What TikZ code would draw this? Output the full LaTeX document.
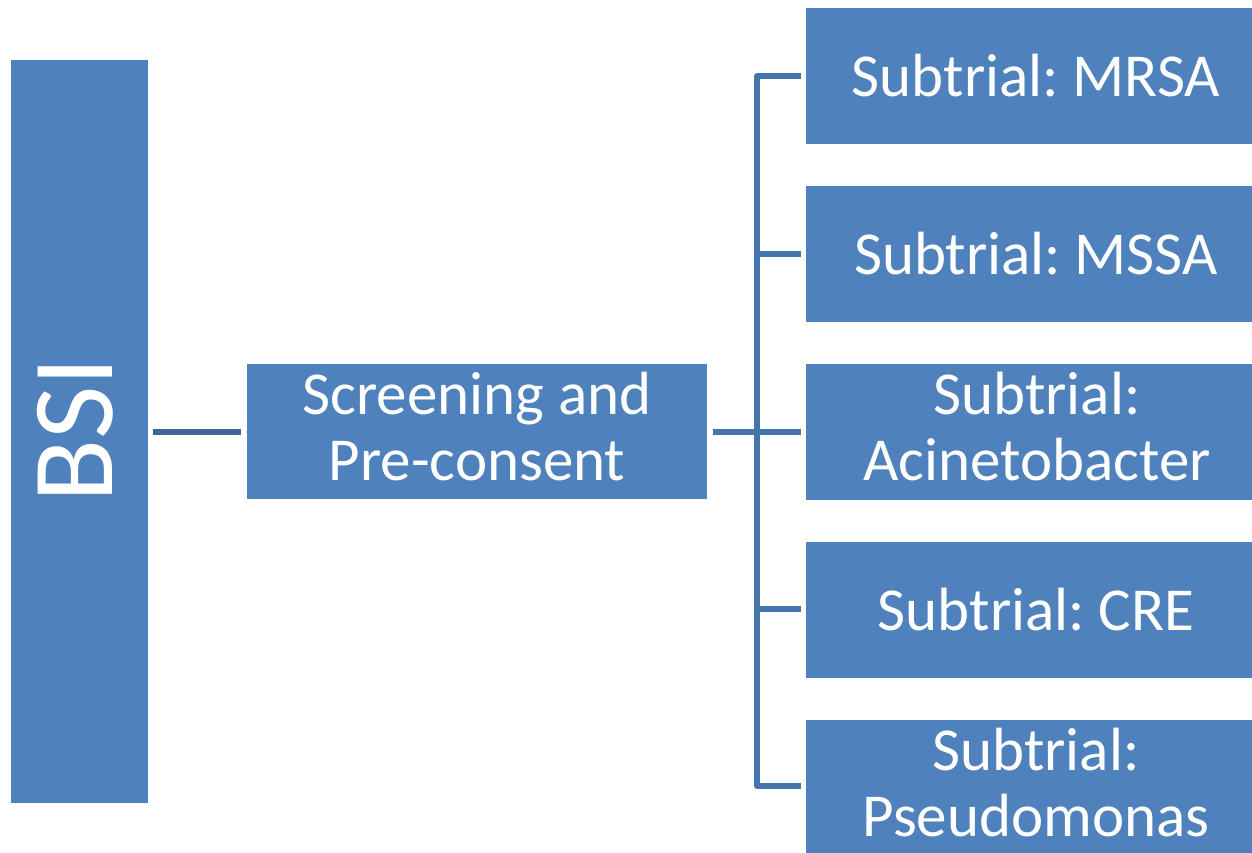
\documentclass[tikz,border=0pt]{standalone}
\usepackage{fontspec}
\setmainfont{Carlito}
\frenchspacing
\definecolor{boxblue}{HTML}{4F81BD}
\definecolor{linkdark}{HTML}{3D6698}
\definecolor{linkblue}{HTML}{4674AC}
\begin{document}
\begin{tikzpicture}[x=1pt,y=-1pt,
  block/.style={rectangle,fill=boxblue,draw=none,inner sep=0pt},
  lbl/.style={text=white,inner sep=0pt,anchor=base,align=center,
    font=\fontsize{61}{66}\selectfont},
  link/.style={line width=5.5pt,line join=round,line cap=butt}]
\useasboundingbox (0,0) rectangle (1252,852);
\clip (0,0) rectangle (1252,852);

% blocks
\node[block,minimum width=137pt,minimum height=743pt] (bsi) at (79.5,431.5) {};
\node[block,minimum width=460pt,minimum height=135pt] (scr) at (477,431.5) {};
\foreach \i/\y in {1/76,2/254,3/432,4/610,5/788}
  \node[block,minimum width=460pt,minimum height=136pt] (s\i) at (1036,\y) {};

% labels (base anchor sits on the last line's baseline)
\node[text=white,inner sep=0pt,anchor=base,rotate=90,
  font=\fontsize{116}{120}\selectfont] (bsit) at (112,430) {BSI};
\node[lbl] (scrt) at (477,480) {Screening and\\Pre-consent};
\node[lbl] (s1t) at (1036,96) {Subtrial: MRSA};
\node[lbl] (s2t) at (1036,274) {Subtrial: MSSA};
\node[lbl] (s3t) at (1037,480) {Subtrial:\\Acinetobacter};
\node[lbl] (s4t) at (1036,630) {Subtrial: CRE};
\node[lbl] (s5t) at (1036,836) {Subtrial:\\Pseudomonas};

% connectors
\coordinate (bt) at (757,76);
\coordinate (bb) at (757,786);
\coordinate (bm) at (757,432);
\coordinate (b2) at (757,254);
\coordinate (b4) at (757,609);

\draw[link,linkdark,shorten <=5pt,shorten >=6pt] (bsi.east|-bm) -- (scr.west|-bm);
\draw[link,linkblue,shorten <=6pt] (scr.east|-bm) -- (bm);
\draw[link,linkblue] ([xshift=-5pt]s1.west|-bt) -- (bt) -- (bb) -- ([xshift=-5pt]s5.west|-bb);
\draw[link,linkblue,shorten >=5pt] (bm) -- (s3.west|-bm);
\draw[link,linkblue,shorten >=5pt] (b2) -- (s2.west|-b2);
\draw[link,linkblue,shorten >=5pt] (b4) -- (s4.west|-b4);
\end{tikzpicture}
\end{document}
